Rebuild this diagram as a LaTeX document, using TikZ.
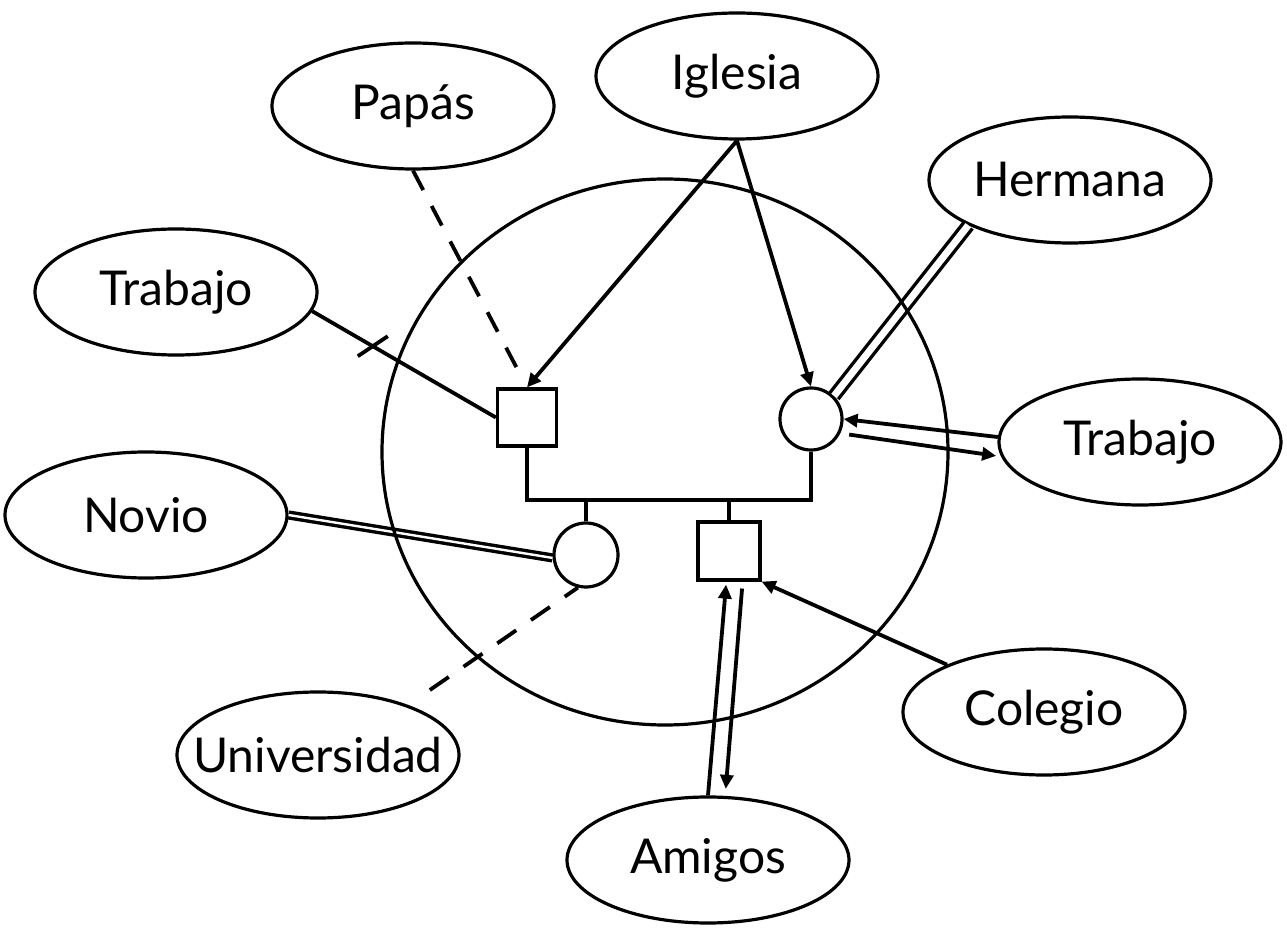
\documentclass[tikz,border=0pt]{standalone}
\usepackage{fontspec}
\setmainfont{Lato}
\usetikzlibrary{shapes.geometric,arrows.meta,calc}
\newcommand{\bubtext}[1]{\makebox[0pt][c]{#1}}
\begin{document}
\begin{tikzpicture}[x=0.5pt,y=-0.5pt,
  bubble/.style={ellipse, draw, line width=1.6pt, minimum width=141pt, minimum height=63pt, inner sep=0pt, font=\fontsize{24}{28}\selectfont},
  person/.style={draw, line width=1.6pt, inner sep=0pt},
  link/.style={line width=1.9pt},
  arr/.style={line width=1.9pt, -{Triangle[length=7pt,width=6.5pt]}},
  dashlink/.style={line width=1.9pt, dash pattern=on 11.5pt off 9pt, dash phase=3.5pt},
  tie/.style={double, line width=1.7pt, double distance=#1},
]
\useasboundingbox (0,0) rectangle (1287,935);

% outer bubbles
\node[bubble] (iglesia) at (737,76) {\bubtext{Iglesia}};
\node[bubble] (papas) at (413,106) {\bubtext{Papás}};
\node[bubble] (hermana) at (1070,180) {\bubtext{Hermana}};
\node[bubble] (trabL) at (176,292) {\bubtext{Trabajo}};
\node[bubble] (trabR) at (1140,442) {\bubtext{Trabajo}};
\node[bubble] (novio) at (146,515) {\bubtext{Novio}};
\node[bubble] (univ) at (318,755) {\bubtext{Universidad}};
\node[bubble] (colegio) at (1044,712) {\bubtext{Colegio}};
\node[bubble] (amigos) at (708,860) {\bubtext{Amigos}};

% family
\node[person, minimum width=29.5pt, minimum height=28.5pt] (father) at (527,417.5) {};
\node[person, circle, minimum size=31pt] (mother) at (811,419) {};
\node[person, circle, minimum size=32pt] (daughter) at (586,555) {};
\node[person, minimum width=31pt, minimum height=29pt] (son) at (729,551) {};
\coordinate (bar) at (668,500);
\draw[line width=1.6pt] (father.south) |- (bar) -| (mother.south);
\draw[line width=1.6pt] (daughter.north) -- (daughter.north |- bar);
\draw[line width=1.6pt] (son.north) -- (son.north |- bar);

% connectors
\draw[link] (trabL.-8) -- (father.west) coordinate[pos=0.33] (tk);
\draw[link] ($(tk)+(-15,10)$) -- ($(tk)+(15,-10)$);
\draw[link, dash pattern=on 11pt off 9pt, shorten >=9pt] (papas.south) -- (father.north);
\draw[arr] (iglesia.south) -- (father.north);
\draw[arr] (iglesia.south) -- (mother.north);
\draw[tie=3.5pt] (hermana.204) -- (mother.45);
\draw[arr] (trabR.178) -- (mother.east);
\draw[arr, shorten <=4.5pt, shorten >=2.5pt] (mother.-26) -- (trabR.186);
\draw[tie=1.2pt] (novio.east) -- (daughter.185);
\draw[dashlink, shorten >=11pt] (daughter.256) -- (univ.29);
\draw[arr, shorten >=1.5pt] (amigos.north) -- (son.-95);
\draw[arr, shorten <=3.5pt, shorten >=3.5pt] (son.-66) -- (amigos.75);
\draw[arr] (colegio.154) -- (son.south east);

% big circle
\node[ellipse, draw, line width=1.6pt, minimum width=283pt, minimum height=273pt, inner sep=0pt] (circ) at (665,452) {};
\end{tikzpicture}
\end{document}
